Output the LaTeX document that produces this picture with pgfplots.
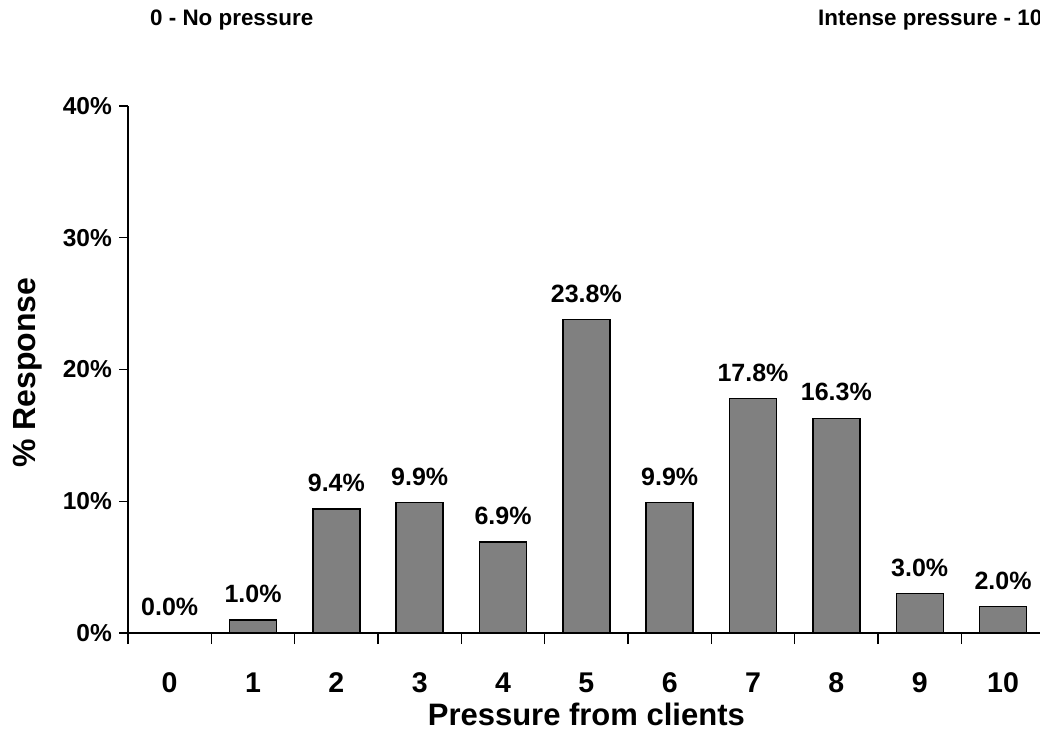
\documentclass[border=0pt]{standalone}
\usepackage{pgfplots}
\pgfplotsset{compat=1.18}
\usepackage{fontspec}
\setmainfont{Liberation Sans}

\definecolor{bargray}{HTML}{808080}
\newcommand\yticklabfont{\bfseries\fontsize{24.5}{28}\selectfont}
\newcommand\xticklabfont{\bfseries\fontsize{28.5}{32}\selectfont}

\begin{document}
\begin{tikzpicture}[x=1pt,y=1pt]
\clip (0,0) rectangle (1040,754);
\path[use as bounding box] (0,0) rectangle (1040,754);

\node[anchor=base west, font=\bfseries\fontsize{22.4}{26}\selectfont, inner sep=0pt] at (150,728) {0 - No pressure};
\node[anchor=base west, font=\bfseries\fontsize{22.4}{26}\selectfont, inner sep=0pt] at (818,728) {Intense pressure - 10};

\begin{axis}[
    at={(128pt,121pt)}, anchor=south west,
    scale only axis,
    width=916.7pt, height=527pt,
    xmin=-0.5, xmax=10.5,
    ymin=0, ymax=40,
    axis x line*=bottom,
    axis y line*=left,
    axis line style={line width=1.6pt},
    clip=false,
    ybar, bar width=47pt,
    /pgf/number format/assume math mode=true,
    xtick={0,1,2,3,4,5,6,7,8,9,10},
    xticklabels={0,1,2,3,4,5,6,7,8,9,10},
    major x tick style={draw=none},
    minor xtick={-0.5,0.5,1.5,2.5,3.5,4.5,5.5,6.5,7.5,8.5,9.5},
    minor x tick style={black, line width=1.4pt},
    minor tick length=11pt,
    ytick={0,10,20,30,40},
    yticklabels={0\%,10\%,20\%,30\%,40\%},
    major tick length=9pt,
    y tick style={black, line width=1.4pt},
    tick align=outside,
    every tick label/.style={inner sep=3pt},
    every x tick label/.style={font=\xticklabfont, anchor=center, yshift=-40.5pt, text height=20.4pt, text depth=0pt},
    every y tick label/.style={font=\yticklabfont, xshift=-4pt},
    xlabel={Pressure from clients},
    ylabel={\% Response},
    xlabel style={font=\bfseries\fontsize{31}{36}\selectfont, at={(axis description cs:0.5,-0.1746)}, anchor=base},
    ylabel style={font=\bfseries\fontsize{32}{36}\selectfont, at={(axis description cs:-0.1005,0.494)}, anchor=base},
    nodes near coords={\pgfmathprintnumber[fixed,fixed zerofill,precision=1]{\pgfplotspointmeta}\%},
    every node near coord/.append style={font=\bfseries\fontsize{25}{28}\selectfont, black, yshift=13pt},
]
\addplot[fill=bargray, draw=black, line width=1.4pt] coordinates {
    (0,0.0) (1,1.0) (2,9.4) (3,9.9) (4,6.9) (5,23.8)
    (6,9.9) (7,17.8) (8,16.3) (9,3.0) (10,2.0)
};
\end{axis}
\end{tikzpicture}
\end{document}
